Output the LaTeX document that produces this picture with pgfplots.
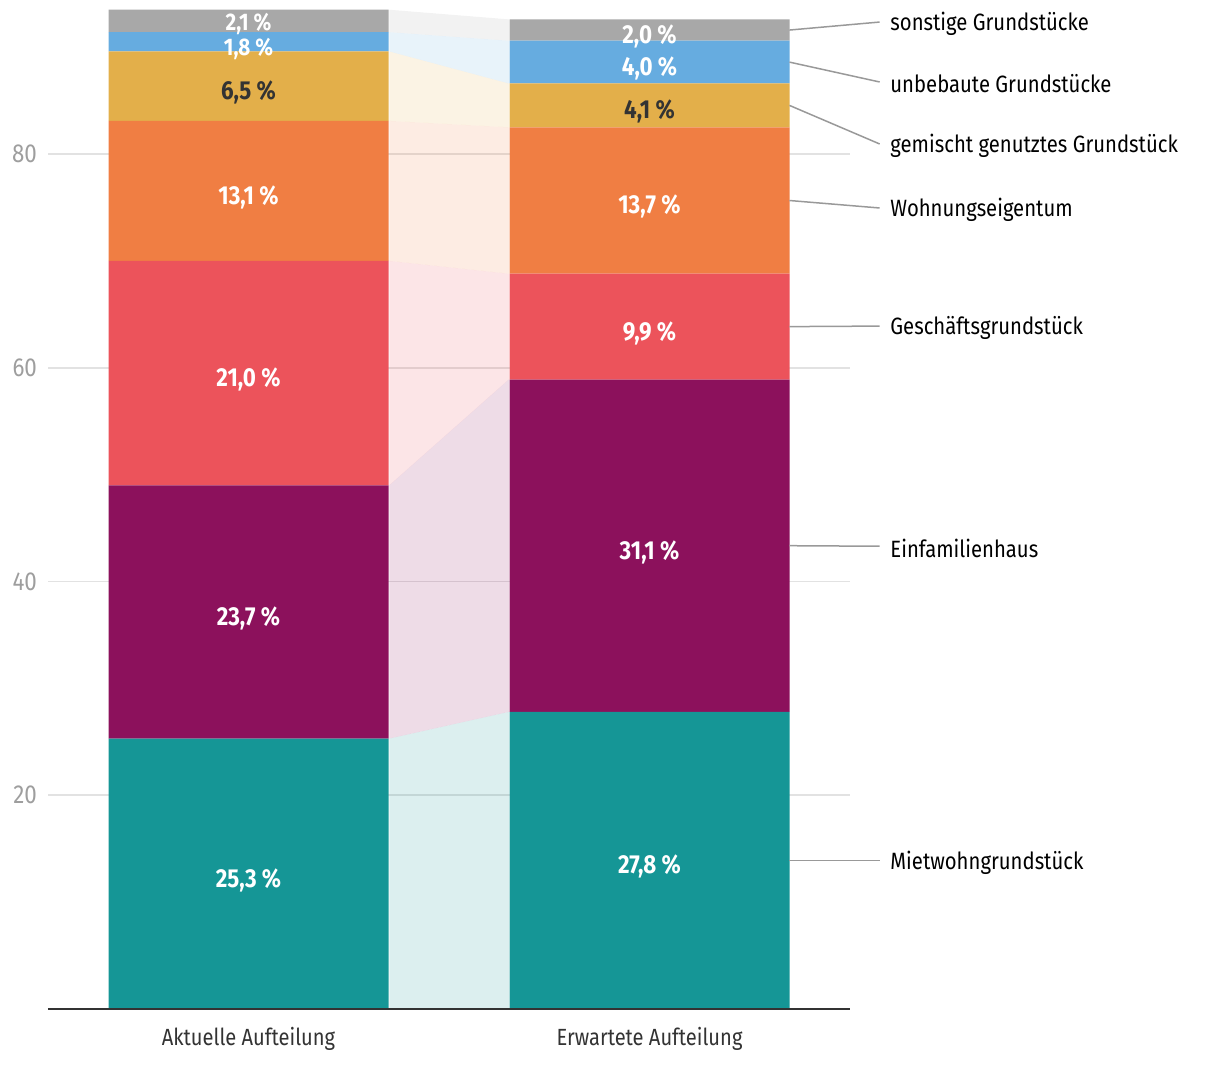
\documentclass[border=0pt]{standalone}
\usepackage{pgfplots}
\pgfplotsset{compat=1.18}
\usepackage{pgfplotstable}
\usepackage{fontspec}
\setmainfont{Fira Sans}[FakeStretch=0.86]
\definecolor{cGray}{HTML}{A8A8A8}
\definecolor{cBlue}{HTML}{66ACE0}
\definecolor{cYel}{HTML}{E3AF4A}
\definecolor{cOra}{HTML}{F07E43}
\definecolor{cRed}{HTML}{EC535B}
\definecolor{cMag}{HTML}{8C115C}
\definecolor{cTeal}{HTML}{159696}
\definecolor{gridc}{HTML}{E2E2E2}
\definecolor{tickc}{HTML}{9E9E9E}
\definecolor{darkc}{HTML}{333333}
\definecolor{leadc}{HTML}{999999}

\pgfplotstableread{
x  miet  einf  gesch  wohn  gem  unb  sonst
0  25.3  23.7  21.0   13.1  6.5  1.8  2.1
1  27.8  31.1  9.9    13.7  4.1  4.0  2.0
}\data

\tikzset{blab/.style={font=\bfseries\fontsize{13}{15}\selectfont, inner sep=0pt},
  slab/.style={font=\bfseries\fontsize{12}{14}\selectfont, inner sep=0pt},
  rlab/.style={anchor=west, inner sep=0pt, xshift=5pt, yshift=-1pt, font=\fontsize{11.8}{14}\selectfont, text=black},
  lead/.style={draw=leadc, line width=0.75pt}}
\newcommand{\wlab}[2]{\node[blab, text=white] at (#1) {#2};}
\newcommand{\dlab}[2]{\node[blab, text=darkc] at (#1) {#2};}

\begin{document}
\begin{tikzpicture}
\path[use as bounding box] (-24pt,-29.5pt) rectangle (586pt,504.5pt);
\begin{axis}[name=ax1, at={(0,0)}, anchor=south west, scale only axis,
  width=401pt, height=502.3pt, xmin=-0.5, xmax=1.5, ymin=0, ymax=94,
  axis line style={draw=none}, major tick length=0pt,
  ytick={20,40,60,80}, ymajorgrids, grid style={color=gridc, line width=0.9pt},
  xtick={0,1}, xticklabels={Aktuelle Aufteilung, Erwartete Aufteilung},
  yticklabel style={text=tickc, font=\fontsize{13}{15}\selectfont, xshift=-2pt},
  xticklabel style={text=darkc, font=\fontsize{11.7}{14}\selectfont, yshift=-5.5pt},
  /pgf/number format/assume math mode=true]
\addplot[draw=none, fill=cTeal, fill opacity=0.15] coordinates {(0.351,0) (0.351,25.3) (0.649,27.8) (0.649,0)} \closedcycle;
\addplot[draw=none, fill=cMag, fill opacity=0.15] coordinates {(0.351,25.3) (0.351,49.0) (0.649,58.9) (0.649,27.8) (0.351,25.3)};
\addplot[draw=none, fill=cRed, fill opacity=0.15] coordinates {(0.351,49.0) (0.351,70.0) (0.649,68.8) (0.649,58.9) (0.351,49.0)};
\addplot[draw=none, fill=cOra, fill opacity=0.15] coordinates {(0.351,70.0) (0.351,83.1) (0.649,82.5) (0.649,68.8) (0.351,70.0)};
\addplot[draw=none, fill=cYel, fill opacity=0.15] coordinates {(0.351,83.1) (0.351,89.6) (0.649,86.6) (0.649,82.5) (0.351,83.1)};
\addplot[draw=none, fill=cBlue, fill opacity=0.15] coordinates {(0.351,89.6) (0.351,91.4) (0.649,90.6) (0.649,86.6) (0.351,89.6)};
\addplot[draw=none, fill=cGray, fill opacity=0.15] coordinates {(0.351,91.4) (0.351,93.5) (0.649,92.6) (0.649,90.6) (0.351,91.4)};
\end{axis}
\begin{axis}[name=ax2, at={(0,0)}, anchor=south west, scale only axis,
  width=401pt, height=502.3pt, xmin=-0.5, xmax=1.5, ymin=0, ymax=94,
  hide axis, clip=false, ybar stacked, bar width=140pt]
\addplot[fill=cTeal, draw=none] table[x=x, y=miet] {\data};
\addplot[fill=cMag, draw=none] table[x=x, y=einf] {\data};
\addplot[fill=cRed, draw=none] table[x=x, y=gesch] {\data};
\addplot[fill=cOra, draw=none] table[x=x, y=wohn] {\data};
\addplot[fill=cYel, draw=none] table[x=x, y=gem] {\data};
\addplot[fill=cBlue, draw=none] table[x=x, y=unb] {\data};
\addplot[fill=cGray, draw=none] table[x=x, y=sonst] {\data};
\coordinate (a1) at (axis cs:0,12.05);
\coordinate (a2) at (axis cs:0,36.55);
\coordinate (a3) at (axis cs:0,58.9);
\coordinate (a4) at (axis cs:0,75.95);
\coordinate (a5) at (axis cs:0,85.8);
\coordinate (a6) at (axis cs:0,89.85);
\coordinate (a7) at (axis cs:0,92.15);
\coordinate (b1) at (axis cs:1,13.3);
\coordinate (b2) at (axis cs:1,42.75);
\coordinate (b3) at (axis cs:1,63.25);
\coordinate (b4) at (axis cs:1,75.05);
\coordinate (b5) at (axis cs:1,83.95);
\coordinate (b6) at (axis cs:1,88.0);
\coordinate (b7) at (axis cs:1,91.0);
\coordinate (s1) at (axis cs:1.349,91.6);  \coordinate (e1) at (axis cs:1.574,92.35);
\coordinate (s2) at (axis cs:1.349,88.6);  \coordinate (e2) at (axis cs:1.574,86.74);
\coordinate (s3) at (axis cs:1.349,84.55); \coordinate (e3) at (axis cs:1.574,80.94);
\coordinate (s4) at (axis cs:1.349,75.65); \coordinate (e4) at (axis cs:1.574,74.95);
\coordinate (s5) at (axis cs:1.349,63.85); \coordinate (e5) at (axis cs:1.574,63.9);
\coordinate (s6) at (axis cs:1.349,43.35); \coordinate (e6) at (axis cs:1.574,43.3);
\coordinate (s7) at (axis cs:1.349,13.9);  \coordinate (e7) at (axis cs:1.574,13.9);
\end{axis}
\draw[darkc, line width=1pt] (ax1.south west) -- (ax1.south east);
\draw[lead] (s1) -- (e1) node[rlab] {sonstige Grundstücke};
\draw[lead] (s2) -- (e2) node[rlab] {unbebaute Grundstücke};
\draw[lead] (s3) -- (e3) node[rlab] {gemischt genutztes Grundstück};
\draw[lead] (s4) -- (e4) node[rlab] {Wohnungseigentum};
\draw[lead] (s5) -- (e5) node[rlab] {Geschäftsgrundstück};
\draw[lead] (s6) -- (e6) node[rlab] {Einfamilienhaus};
\draw[lead] (s7) -- (e7) node[rlab] {Mietwohngrundstück};
\wlab{a1}{25,3 \%}
\wlab{a2}{23,7 \%}
\wlab{a3}{21,0 \%}
\wlab{a4}{13,1 \%}
\dlab{a5}{6,5 \%}
\node[slab, text=white] at (a6) {1,8 \%};
\node[slab, text=white] at (a7) {2,1 \%};
\wlab{b1}{27,8 \%}
\wlab{b2}{31,1 \%}
\wlab{b3}{9,9 \%}
\wlab{b4}{13,7 \%}
\dlab{b5}{4,1 \%}
\wlab{b6}{4,0 \%}
\wlab{b7}{2,0 \%}
\end{tikzpicture}
\end{document}
